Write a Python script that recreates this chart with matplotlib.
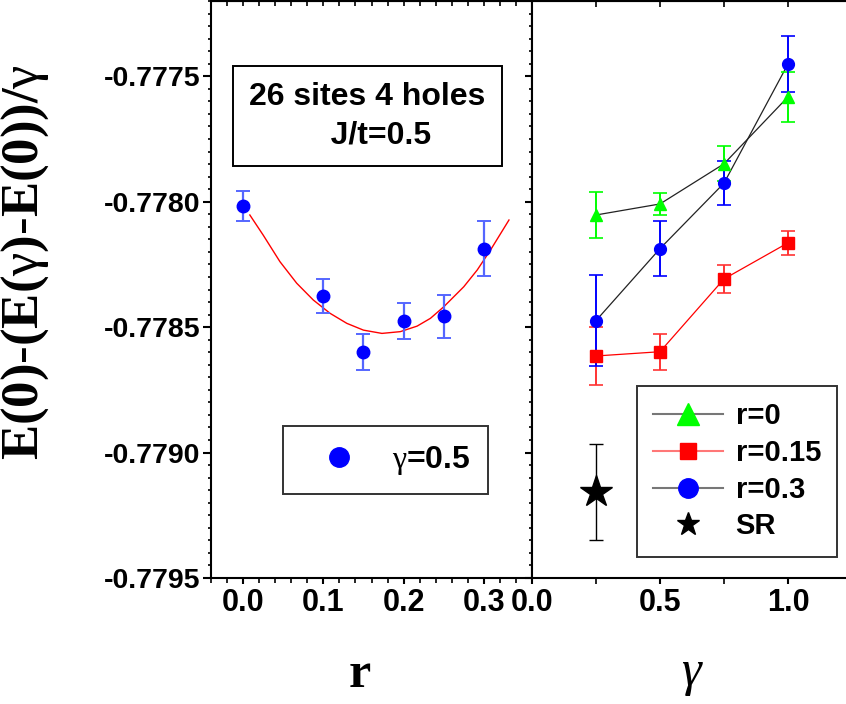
import matplotlib
matplotlib.use("Agg")
import matplotlib.pyplot as plt
from matplotlib.ticker import MultipleLocator, FormatStrFormatter, NullFormatter
from matplotlib.lines import Line2D

plt.rcParams['mathtext.fontset'] = 'custom'
plt.rcParams['mathtext.rm'] = 'Liberation Serif'
plt.rcParams['mathtext.it'] = 'Liberation Serif'
plt.rcParams['mathtext.bf'] = 'Liberation Serif:bold'

# left panel: gamma = 0.5, energy vs r
r_vals = [0.0, 0.1, 0.15, 0.2, 0.25, 0.3]
e_r = [-0.778017, -0.778376, -0.778598, -0.778474, -0.778457, -0.778187]
e_r_err = [0.00006, 0.000066, 0.000072, 0.000072, 0.000085, 0.00011]

# parabolic fit, points
fit_r = [0.0084, 0.025, 0.0459, 0.0668, 0.0875, 0.1084, 0.1293, 0.15, 0.173,
         0.1959, 0.2168, 0.2334, 0.25, 0.275, 0.2918, 0.3084, 0.3313]
fit_e = [-0.778053, -0.778133, -0.778239, -0.778325, -0.778392, -0.778445,
         -0.778485, -0.778512, -0.778525, -0.778518, -0.778496, -0.778465,
         -0.778419, -0.778339, -0.778272, -0.778192, -0.778073]

# right panel: energy vs gamma for several r
gammas = [0.25, 0.5, 0.75, 1.0]
e_r0 = [-0.778053, -0.778009, -0.777849, -0.777582]
e_r0_err = [0.000092, 0.000045, 0.00007, 0.0001]
e_r015 = [-0.778615, -0.778598, -0.778308, -0.778164]
e_r015_err = [0.000117, 0.000072, 0.000057, 0.000048]
e_r03 = [-0.778474, -0.778187, -0.777926, -0.777451]
e_r03_err = [0.00018, 0.00011, 0.000087, 0.00011]
sr_gamma = [0.25]
sr_e = [-0.779157]
sr_err = [0.00019]

W, H = 846, 704
fig = plt.figure(figsize=(W / 100, H / 100), dpi=100)
ax1 = fig.add_axes([211 / W, 126 / H, 321 / W, 577 / H])
ax2 = fig.add_axes([532 / W, 126 / H, 320 / W, 577 / H], sharey=ax1)

yfont = dict(family='Liberation Sans', weight='bold', size=20.5)
xfont = dict(family='Liberation Sans', weight='bold', size=22)

# ---- left panel
ax1.plot(fit_r, fit_e, color='red', lw=1.0, zorder=2)
ax1.errorbar(r_vals, e_r, yerr=e_r_err, fmt='none', ecolor='#5566ff',
             elinewidth=1.6, capsize=5, capthick=1.4, zorder=3)
ax1.plot(r_vals, e_r, 'o', color='blue', ms=9, zorder=4)

ax1.set_xlim(-0.04, 0.36)
ax1.set_ylim(-0.7795, -0.7772)
ax1.xaxis.set_major_locator(MultipleLocator(0.1))
ax1.xaxis.set_minor_locator(MultipleLocator(0.02))
ax1.xaxis.set_major_formatter(FormatStrFormatter('%.1f'))
ax1.yaxis.set_major_locator(MultipleLocator(0.0005))
ax1.yaxis.set_minor_locator(MultipleLocator(0.00005))
ax1.yaxis.set_major_formatter(FormatStrFormatter('%.4f'))
ax1.tick_params(axis='y', which='both', left=True, right=False, direction='out', pad=1.5)
ax1.tick_params(axis='y', which='major', length=6, width=1.5)
ax1.tick_params(axis='y', which='minor', length=2.5, width=1.2)
ax1.tick_params(axis='x', which='both', direction='out', pad=3)
ax1.tick_params(axis='x', which='major', length=4.5, width=1.5)
ax1.tick_params(axis='x', which='minor', length=3.5, width=1.2)
for lab in ax1.get_xticklabels():
    lab.set_fontproperties(xfont)
for lab in ax1.get_yticklabels():
    lab.set_fontproperties(yfont)

top1 = ax1.secondary_xaxis('top')
top1.xaxis.set_major_locator(MultipleLocator(0.02))
top1.xaxis.set_major_formatter(NullFormatter())
top1.tick_params(direction='in', length=3.5, width=1.2)

ax1.text(0.488, 0.80, '26 sites 4 holes\n   J/t=0.5', transform=ax1.transAxes,
         ha='center', va='center', fontsize=23, fontfamily='Liberation Sans',
         fontweight='bold', linespacing=1.35,
         bbox=dict(boxstyle='square,pad=0.5', fc='white', ec='black', lw=1.4))

leg1_handle = Line2D([], [], ls='none', marker='o', color='blue', ms=14)
leg1 = ax1.legend([leg1_handle], [r'$\mathrm{\gamma}$=0.5'], loc='center',
                  bbox_to_anchor=(0.5436, 0.2039), frameon=True, fancybox=False,
                  edgecolor='black', borderpad=0.55, handlelength=2.4,
                  handletextpad=0.45, borderaxespad=0,
                  prop=dict(family='Liberation Sans', weight='bold', size=23))
leg1.get_frame().set_linewidth(1.4)

# ---- right panel
ax2.errorbar(gammas, e_r0, yerr=e_r0_err, fmt='none', ecolor='#00ff00',
             elinewidth=1.4, capsize=5, capthick=1.2, zorder=3)
ax2.plot(gammas, e_r0, '-', color='#222222', lw=0.9, zorder=2)
ax2.plot(gammas, e_r0, '^', color='#00ff00', ms=9, zorder=4)

ax2.errorbar(gammas, e_r015, yerr=e_r015_err, fmt='none', ecolor='#ff3333',
             elinewidth=1.4, capsize=5, capthick=1.2, zorder=3)
ax2.plot(gammas, e_r015, '-', color='red', lw=0.9, zorder=2)
ax2.plot(gammas, e_r015, 's', color='red', ms=8, zorder=4)

ax2.errorbar(gammas, e_r03, yerr=e_r03_err, fmt='none', ecolor='blue',
             elinewidth=1.4, capsize=5, capthick=1.2, zorder=3)
ax2.plot(gammas, e_r03, '-', color='#222222', lw=0.9, zorder=2)
ax2.plot(gammas, e_r03, 'o', color='blue', ms=8.5, zorder=4)

ax2.errorbar(sr_gamma, sr_e, yerr=sr_err, fmt='none', ecolor='black',
             elinewidth=1.0, capsize=5, capthick=1.0, zorder=3)
ax2.plot(sr_gamma, sr_e, '*', color='black', ms=24, zorder=4)

ax2.set_xlim(0, 1.25)
ax2.xaxis.set_major_locator(MultipleLocator(0.5))
ax2.xaxis.set_minor_locator(MultipleLocator(0.25))
ax2.xaxis.set_major_formatter(FormatStrFormatter('%.1f'))
ax2.tick_params(axis='x', which='both', direction='out', pad=3)
ax2.tick_params(axis='x', which='major', length=4.5, width=1.5)
ax2.tick_params(axis='x', which='minor', length=4, width=1.2)
for lab in ax2.get_xticklabels():
    lab.set_fontproperties(xfont)
# left-side ticks of the right panel point into the left panel
ax2.tick_params(axis='y', which='both', left=True, right=False, labelleft=False,
                direction='out')
ax2.tick_params(axis='y', which='major', length=5, width=1.5)
ax2.tick_params(axis='y', which='minor', length=2.5, width=1.2)

top2 = ax2.secondary_xaxis('top')
top2.xaxis.set_major_locator(MultipleLocator(0.25))
top2.xaxis.set_major_formatter(NullFormatter())
top2.tick_params(direction='in', length=4, width=1.2)
right2 = ax2.secondary_yaxis('right')
right2.yaxis.set_major_locator(MultipleLocator(0.0005))
right2.yaxis.set_major_formatter(NullFormatter())
right2.tick_params(direction='in', length=2.5, width=1.0)

handles = [
    Line2D([], [], color='#777777', lw=1.5, marker='^', mfc='#00ff00', mec='#00ff00', ms=16),
    Line2D([], [], color='#ff7777', lw=1.5, marker='s', mfc='red', mec='red', ms=12),
    Line2D([], [], color='#777777', lw=1.5, marker='o', mfc='blue', mec='blue', ms=14),
    Line2D([], [], ls='none', marker='*', color='black', ms=17),
]
labels = ['r=0', 'r=0.15', 'r=0.3', 'SR']
leg2 = ax2.legend(handles, labels, loc='center', bbox_to_anchor=(0.640, 0.1848),
                  frameon=True, fancybox=False, edgecolor='black', borderpad=0.55,
                  handlelength=2.4, handletextpad=0.45, labelspacing=0.3,
                  borderaxespad=0,
                  prop=dict(family='Liberation Sans', weight='bold', size=21))
leg2.get_frame().set_linewidth(1.4)

for ax in (ax1, ax2, top1, top2, right2):
    for sp in ax.spines.values():
        sp.set_linewidth(1.5)

# axis titles
fig.text(25 / W, 1 - 262 / H, r'$\mathbf{E(0)\text{-}(E(}\gamma\mathbf{)\text{-}E(0))/}\gamma$',
         rotation=90, ha='center', va='center', fontsize=38)
fig.text(360 / W, 1 - 687 / H, 'r', ha='center', va='baseline', fontsize=36,
         fontfamily='Liberation Serif', fontweight='bold')
fig.text(691 / W, 1 - 685 / H, '\u03b3', ha='center', va='baseline', fontsize=36,
         fontfamily='Liberation Serif', fontstyle='italic')

fig.savefig('out.png', dpi=100)
